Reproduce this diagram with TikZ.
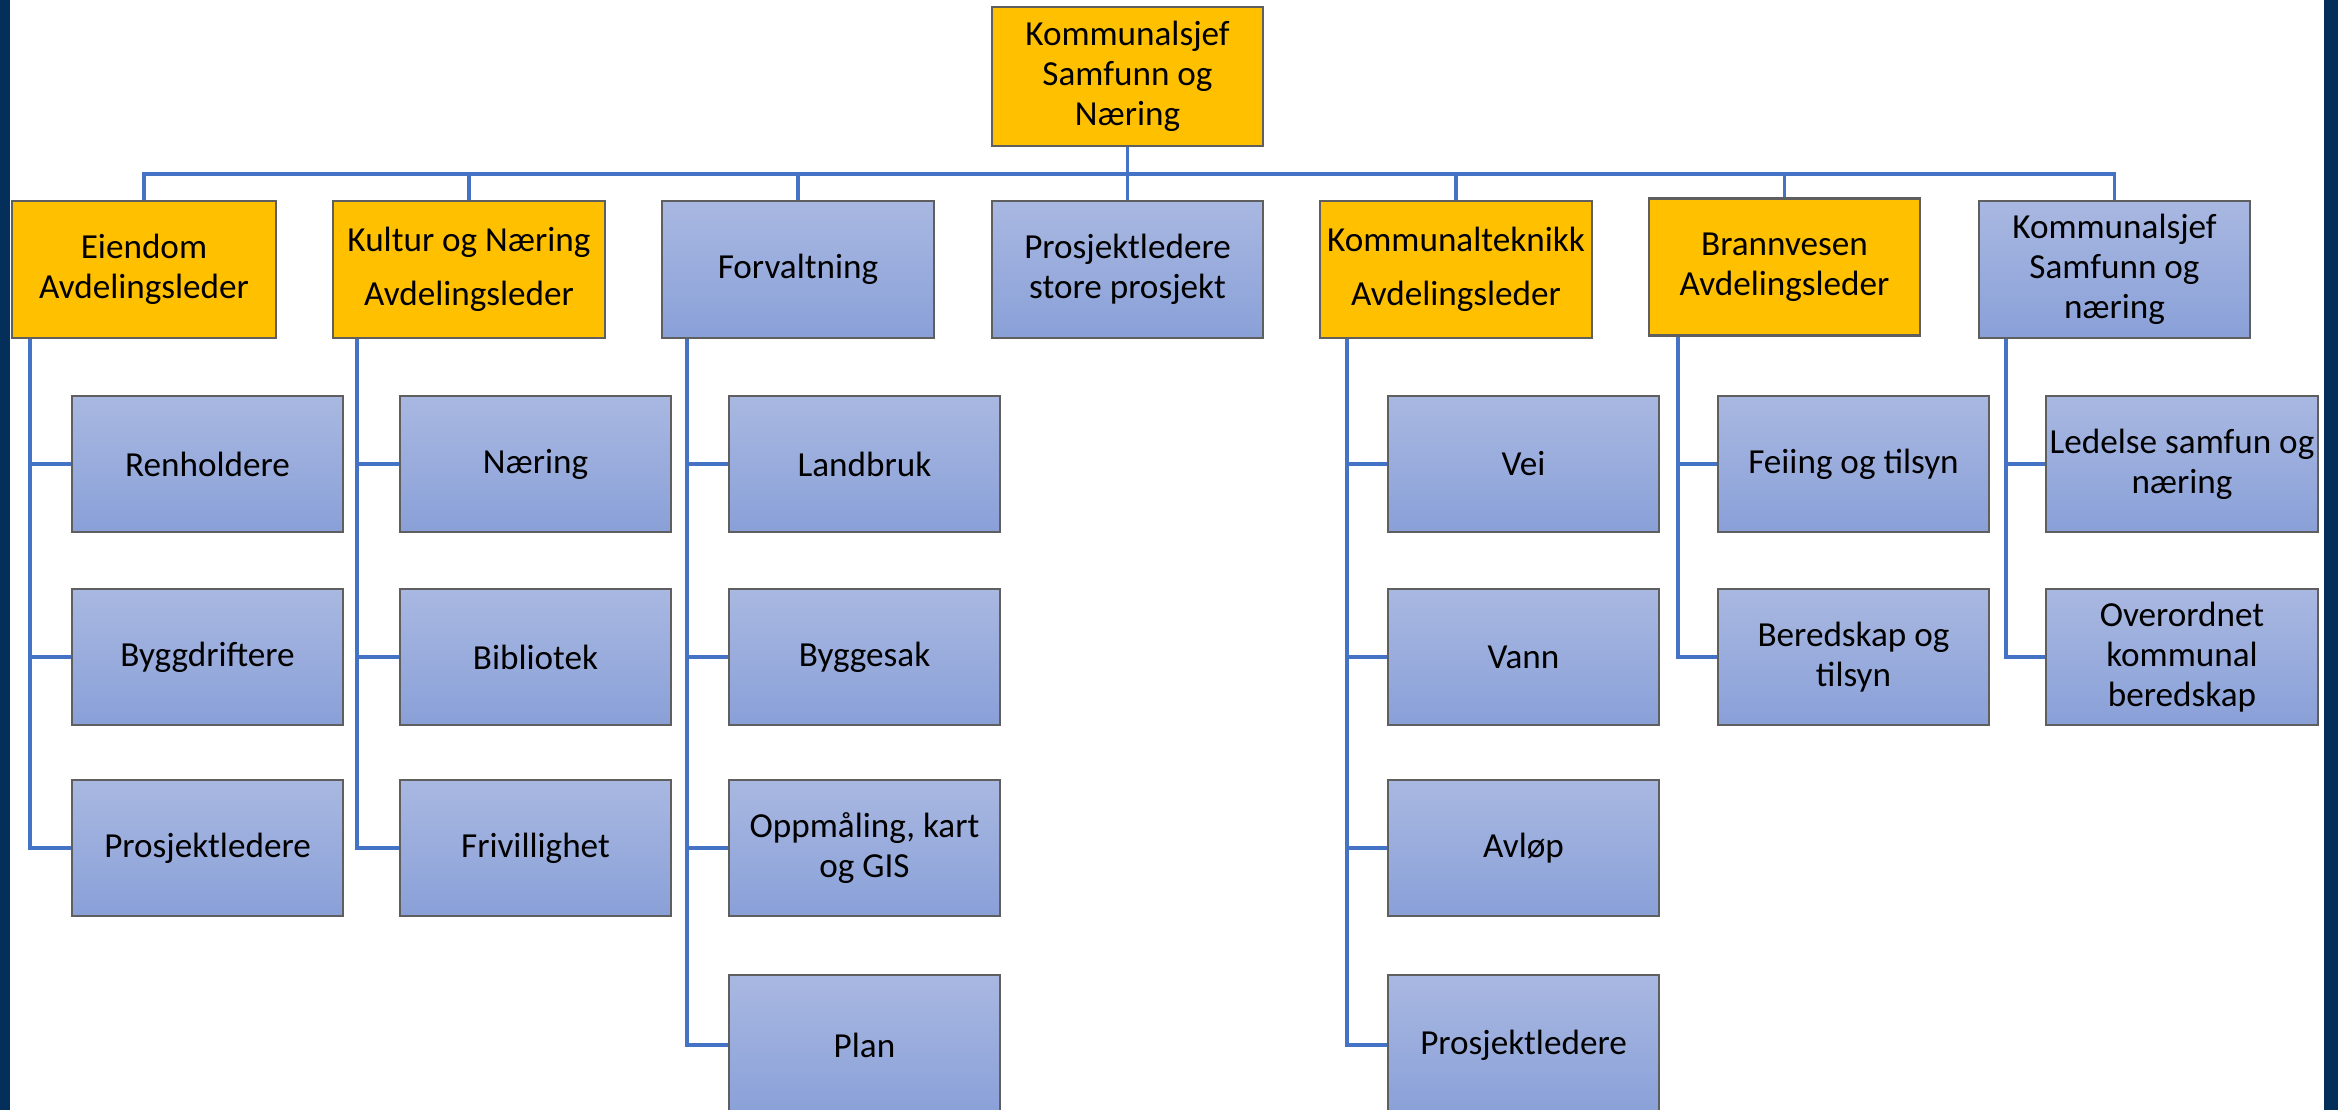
\documentclass[tikz,border=0pt]{standalone}
\usepackage{fontspec}
\setmainfont{Carlito}
\definecolor{navy}{RGB}{3,47,90}
\definecolor{gold}{RGB}{255,192,0}
\definecolor{linkblue}{RGB}{68,114,196}
\definecolor{bluetop}{RGB}{169,184,225}
\definecolor{bluebot}{RGB}{137,160,216}
\definecolor{edgegray}{RGB}{95,95,95}
\begin{document}
\begin{tikzpicture}[x=0.01cm,y=-0.01cm,
  base/.style={draw=edgegray, line width=0.6pt, inner sep=0pt, align=center,
    font=\fontsize{10}{11.3}\selectfont, minimum width=2.71cm, minimum height=1.36cm},
  yel/.style={base, fill=gold},
  blu/.style={base, top color=bluetop, bottom color=bluebot},
  link/.style={draw=linkblue, line width=1.1pt}]
\useasboundingbox (0,0) rectangle (2338,1110);
\fill[white] (0,0) rectangle (2338,1110);

% top
\node[yel, minimum height=1.39cm] (top) at (1127.5,76.5) {Kommunalsjef\\Samfunn og\\Næring};

% level 1
\node[yel, minimum width=2.64cm, minimum height=1.37cm] (eien) at (144,269.5) {Eiendom\\Avdelingsleder};
\node[yel, minimum height=1.37cm] (kult) at (469,269.5) {Kultur og Næring\\[4pt]Avdelingsleder};
\node[blu, minimum height=1.37cm] (forv) at (798,269.5) {Forvaltning};
\node[blu, minimum height=1.37cm] (pros) at (1127.5,269.5) {Prosjektledere\\store prosjekt};
\node[yel, minimum height=1.37cm] (komt) at (1456,269.5) {Kommunalteknikk\\[4pt]Avdelingsleder};
\node[yel, minimum height=1.37cm] (bran) at (1784.5,267) {Brannvesen\\Avdelingsleder};
\node[blu, minimum height=1.37cm] (ksjf) at (2114.5,269.5) {Kommunalsjef\\Samfunn og\\næring};

% level 2 - Eiendom
\node[blu] (e1) at (207.5,464) {Renholdere};
\node[blu] (e2) at (207.5,657) {Byggdriftere};
\node[blu] (e3) at (207.5,848) {Prosjektledere};
% Kultur
\node[blu] (k1) at (535.5,464) {Næring};
\node[blu] (k2) at (535.5,657) {Bibliotek};
\node[blu] (k3) at (535.5,848) {Frivillighet};
% Forvaltning
\node[blu] (f1) at (864.5,464) {Landbruk};
\node[blu] (f2) at (864.5,657) {Byggesak};
\node[blu] (f3) at (864.5,848) {Oppmåling, kart\\og GIS};
\node[blu, minimum height=1.40cm] (f4) at (864.5,1045) {Plan};
% Kommunalteknikk
\node[blu] (t1) at (1523.5,464) {Vei};
\node[blu] (t2) at (1523.5,657) {Vann};
\node[blu] (t3) at (1523.5,848) {Avløp};
\node[blu, minimum height=1.40cm] (t4) at (1523.5,1045) {Prosjektledere};
% Brannvesen
\node[blu] (b1) at (1853.5,464) {Feiing og tilsyn};
\node[blu] (b2) at (1853.5,657) {Beredskap og\\tilsyn};
% Kommunalsjef
\node[blu] (s1) at (2182,464) {Ledelse samfun og\\næring};
\node[blu] (s2) at (2182,657) {Overordnet\\kommunal\\beredskap};

% bus
\foreach \n in {eien,kult,forv,pros,komt,bran,ksjf}
  \draw[link] (top.south) -- ++(0,27) -| (\n.north);

% spines
\foreach \p/\c/\o in {eien/e1/0.19cm,eien/e2/0.19cm,eien/e3/0.19cm,
                      kult/k1/0.25cm,kult/k2/0.25cm,kult/k3/0.25cm,
                      forv/f1/0.26cm,forv/f2/0.26cm,forv/f3/0.26cm,forv/f4/0.26cm,
                      komt/t1/0.28cm,komt/t2/0.28cm,komt/t3/0.28cm,komt/t4/0.28cm,
                      bran/b1/0.30cm,bran/b2/0.30cm,
                      ksjf/s1/0.28cm,ksjf/s2/0.28cm}
  \draw[link] ([xshift=\o]\p.south west) |- (\c.west);

% side frame
\fill[navy] (0,0) rectangle (10,1110);
\fill[navy] (2324,0) rectangle (2338,1110);
\end{tikzpicture}
\end{document}
